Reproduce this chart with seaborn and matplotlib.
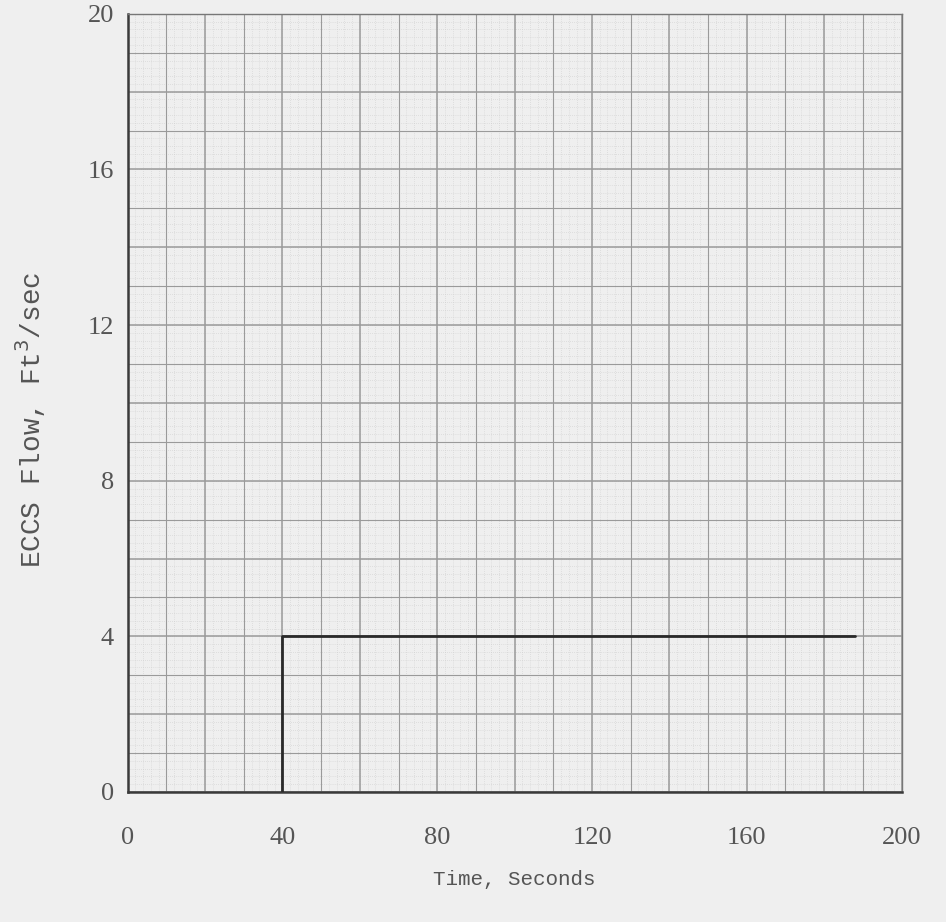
import matplotlib
matplotlib.use("Agg")
import matplotlib.pyplot as plt
import seaborn as sns
import pandas as pd
import numpy as np

# ECCS flow step
time_s = [40, 40, 188]
eccs_flow = [0, 4, 4]

x_ticks = [0, 40, 80, 120, 160, 200]
y_ticks = [0, 4, 8, 12, 16, 20]

df = pd.DataFrame({"Time": time_s, "Flow": eccs_flow})

sns.set_style("white")
paper = "#efefef"
ink = "#3a3a3a"

fig = plt.figure(figsize=(9.46, 9.22), dpi=100, facecolor=paper)
ax = fig.add_axes([0.135, 0.141, 0.818, 0.844], facecolor=paper)

# graph-paper grid
for x in np.arange(0, 201, 2):
    ax.axvline(x, color="#cdcdcd", lw=0.5, ls=(0, (1, 2)), zorder=0)
for y in np.arange(0, 20.01, 0.2):
    ax.axhline(y, color="#cdcdcd", lw=0.5, ls=(0, (1, 2)), zorder=0)
for x in range(0, 201, 10):
    ax.axvline(x, color="#9a9a9a", lw=0.8 if x % 20 else 1.1, zorder=1)
for y in range(0, 21):
    ax.axhline(y, color="#9a9a9a", lw=0.8 if y % 2 else 1.1, zorder=1)

sns.lineplot(data=df, x="Time", y="Flow", sort=False, estimator=None,
             color="#2a2a2a", lw=2.0, ax=ax, zorder=3)

ax.set_xlim(0, 200)
ax.set_ylim(0, 20)
ax.set_xticks(x_ticks)
ax.set_yticks(y_ticks)
ax.set_xticklabels([str(t) for t in x_ticks], family="Liberation Serif",
                   fontsize=19, color="#555555")
ax.set_yticklabels([str(t) for t in y_ticks], family="Liberation Serif",
                   fontsize=19, color="#555555")
ax.tick_params(axis="both", direction="inout", length=8, width=1.2,
               color=ink)
ax.tick_params(axis="x", pad=21)
ax.tick_params(axis="y", pad=6)
ax.set_yticks(np.arange(0, 20.01, 0.5), minor=True)
ax.tick_params(axis="y", which="minor", direction="inout", length=5,
               width=0.8, color=ink)

for side in ["left", "bottom"]:
    ax.spines[side].set_color(ink)
    ax.spines[side].set_linewidth(1.8)
for side in ["top", "right"]:
    ax.spines[side].set_color("#777777")
    ax.spines[side].set_linewidth(1.0)

ax.set_xlabel("Time, Seconds", family="Liberation Mono", fontsize=15,
              color="#555555", labelpad=15)
ax.set_ylabel("ECCS Flow, Ft$^3$/sec", family="Liberation Mono", fontsize=20,
              color="#555555")
ax.yaxis.set_label_coords(-0.103, 0.478)

fig.savefig("out.png", dpi=100, facecolor=paper)
